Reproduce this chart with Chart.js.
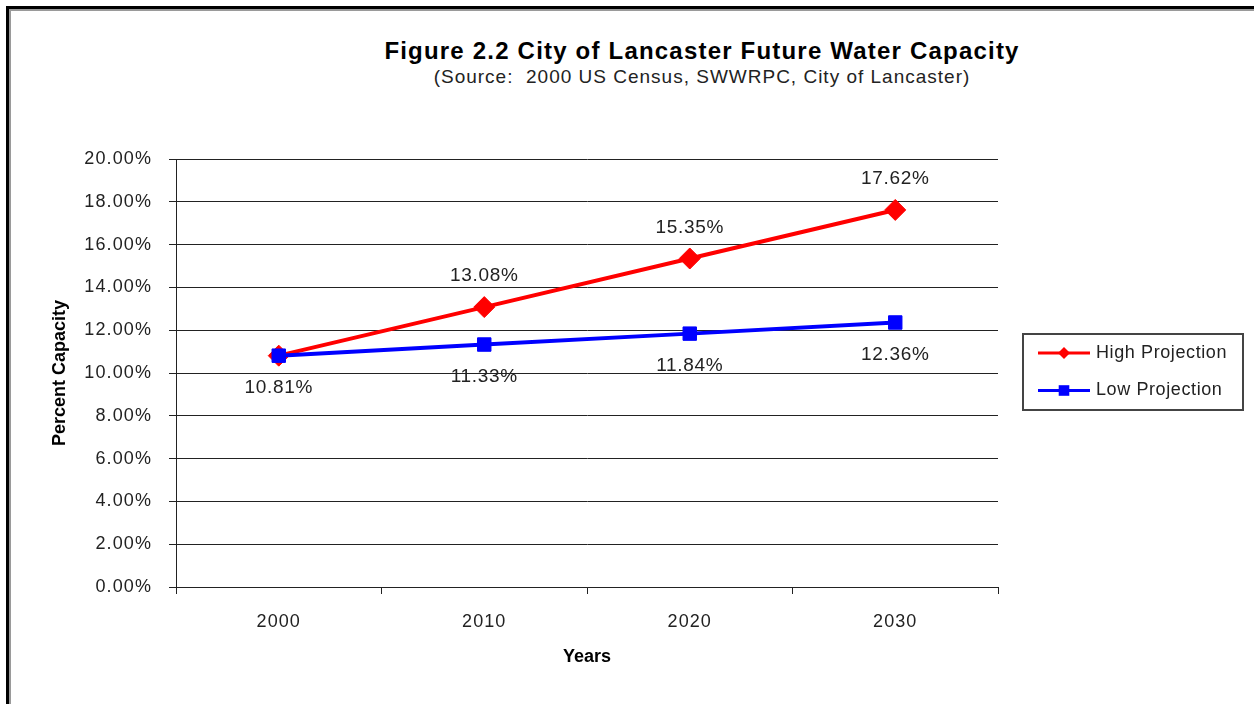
<!DOCTYPE html>
<html>
<head>
<meta charset="utf-8">
<title>City of Lancaster Future Water Capacity</title>
<script src="https://cdn.jsdelivr.net/npm/chart.js@4.4.1/dist/chart.umd.min.js"></script>
<style>
  html, body { margin: 0; padding: 0; background: #fff; overflow: hidden; }
  body { width: 1254px; height: 704px; position: relative; font-family: "Liberation Sans", Arial, sans-serif; }
  .frame { position: absolute; left: 6px; top: 6px; width: 1400px; height: 1000px; border-left: 3px solid #000; border-top: 3px solid #000; }
  .frame::after { content: ""; position: absolute; left: 0; top: 0; right: 0; bottom: 0; border-left: 2px solid #9a9a9a; border-top: 2px solid #9a9a9a; }
  .heading { position: absolute; left: 302px; top: 37px; width: 800px; text-align: center; color: #000; }
  .heading h1 { margin: 0; font-size: 24px; line-height: 28px; font-weight: bold; letter-spacing: 1.2px; }
  .heading p { margin: 0; font-size: 19px; line-height: 24px; letter-spacing: 1px; color: #222; }
  canvas { position: absolute; left: 0; top: 0; }
</style>
</head>
<body>
<div class="frame"></div>
<div class="heading">
  <h1>Figure 2.2 City of Lancaster Future Water Capacity</h1>
  <p>(Source:&nbsp; 2000 US Census, SWWRPC, City of Lancaster)</p>
</div>
<canvas id="capacityChart" width="1254" height="704"></canvas>
<script>
const years = ['2000', '2010', '2020', '2030'];
const highProjection = [10.81, 13.08, 15.35, 17.62];
const lowProjection = [10.81, 11.33, 11.84, 12.36];
const seriesNames = ['High Projection', 'Low Projection'];
const yMin = 0;
const yMax = 20;
const yStep = 2;

const FONT = "'Liberation Sans', Arial, sans-serif";

// axis titles go out plain, tick labels (drawn after the datasets, ticks.z = 1) get wider spacing
const textSpacing = {
  id: 'textSpacing',
  beforeDraw(chart) { chart.ctx.letterSpacing = '0px'; },
  afterDatasetsDraw(chart) { chart.ctx.letterSpacing = '1.1px'; }
};

// value labels: high series above its points, low series below
const pointLabels = {
  id: 'pointLabels',
  afterDatasetsDraw(chart) {
    const ctx = chart.ctx;
    const sets = chart.data.datasets;
    ctx.save();
    ctx.font = '19px ' + FONT;
    ctx.letterSpacing = '0.7px';
    ctx.fillStyle = '#222';
    ctx.textAlign = 'center';
    ctx.textBaseline = 'middle';
    sets.forEach((ds, d) => {
      chart.getDatasetMeta(d).data.forEach((pt, i) => {
        // where two series share a value only the later one gets a label
        if (sets.slice(d + 1).some(o => o.data[i] === ds.data[i])) return;
        const dy = ds.labelAbove ? -31 : 32;
        ctx.fillText(ds.data[i].toFixed(2) + '%', pt.x, pt.y + dy);
      });
    });
    ctx.restore();
  }
};

function drawMarker(ctx, style, x, y, s) {
  ctx.beginPath();
  if (style === 'rectRot') {
    ctx.moveTo(x - s, y);
    ctx.lineTo(x, y - s);
    ctx.lineTo(x + s, y);
    ctx.lineTo(x, y + s);
    ctx.closePath();
  } else {
    ctx.rect(x - s, y - s, 2 * s, 2 * s);
  }
  ctx.fill();
}

// boxed legend to the right of the plot
const boxLegend = {
  id: 'boxLegend',
  afterDraw(chart) {
    const ctx = chart.ctx;
    const x = chart.chartArea.right + 25, y = 334, w = 220, h = 76;
    ctx.save();
    ctx.letterSpacing = '0.6px';
    ctx.strokeStyle = '#444';
    ctx.lineWidth = 2;
    ctx.strokeRect(x, y, w, h);
    chart.data.datasets.forEach((ds, i) => {
      const cy = y + 19 + i * 37.5;
      ctx.strokeStyle = ds.borderColor;
      ctx.lineWidth = 3;
      ctx.beginPath();
      ctx.moveTo(x + 15, cy);
      ctx.lineTo(x + 67, cy);
      ctx.stroke();
      ctx.fillStyle = ds.borderColor;
      drawMarker(ctx, ds.pointStyle, x + 41, cy, ds.pointStyle === 'rectRot' ? 6 : 5.3);
      ctx.fillStyle = '#222';
      ctx.font = '18px ' + FONT;
      ctx.textAlign = 'left';
      ctx.textBaseline = 'middle';
      ctx.fillText(ds.label, x + 73, cy);
    });
    ctx.restore();
  }
};

new Chart(document.getElementById('capacityChart'), {
  type: 'line',
  data: {
    labels: years,
    datasets: [
      {
        label: seriesNames[0],
        data: highProjection,
        borderColor: '#ff0000',
        backgroundColor: '#ff0000',
        borderWidth: 4,
        pointStyle: 'rectRot',
        pointRadius: 10.5,
        pointBorderWidth: 1,
        labelAbove: true,
        order: 1
      },
      {
        label: seriesNames[1],
        data: lowProjection,
        borderColor: '#0000ff',
        backgroundColor: '#0000ff',
        borderWidth: 4,
        pointStyle: 'rect',
        pointRadius: 9.5,
        pointBorderWidth: 1,
        labelAbove: false,
        order: 0
      }
    ]
  },
  options: {
    responsive: false,
    animation: false,
    layout: { padding: { top: 159, right: 256, bottom: 0, left: 0 } },
    plugins: {
      legend: { display: false },
      tooltip: { enabled: false }
    },
    scales: {
      x: {
        offset: true,
        grid: { offset: true, drawOnChartArea: false, color: '#222', tickLength: 7 },
        border: { color: '#222', width: 1 },
        ticks: { color: '#222', font: { family: FONT, size: 18 }, padding: 17, z: 1 },
        title: {
          display: true,
          text: 'Years',
          color: '#000',
          font: { family: FONT, size: 18, weight: 'bold' },
          padding: { top: 0, bottom: 36 }
        },
        afterFit(scale) { scale.height = 117; }
      },
      y: {
        min: yMin,
        max: yMax,
        grid: { color: '#222', tickLength: 7 },
        border: { color: '#222', width: 1 },
        ticks: {
          stepSize: yStep,
          color: '#222',
          font: { family: FONT, size: 18 },
          padding: 17,
          z: 1,
          callback: v => v.toFixed(2) + '%'
        },
        title: {
          display: true,
          text: 'Percent Capacity',
          color: '#000',
          font: { family: FONT, size: 18, weight: 'bold' },
          padding: { top: 49, bottom: 0 }
        },
        afterFit(scale) { scale.width = 176; }
      }
    }
  },
  plugins: [textSpacing, pointLabels, boxLegend]
});
</script>
</body>
</html>
